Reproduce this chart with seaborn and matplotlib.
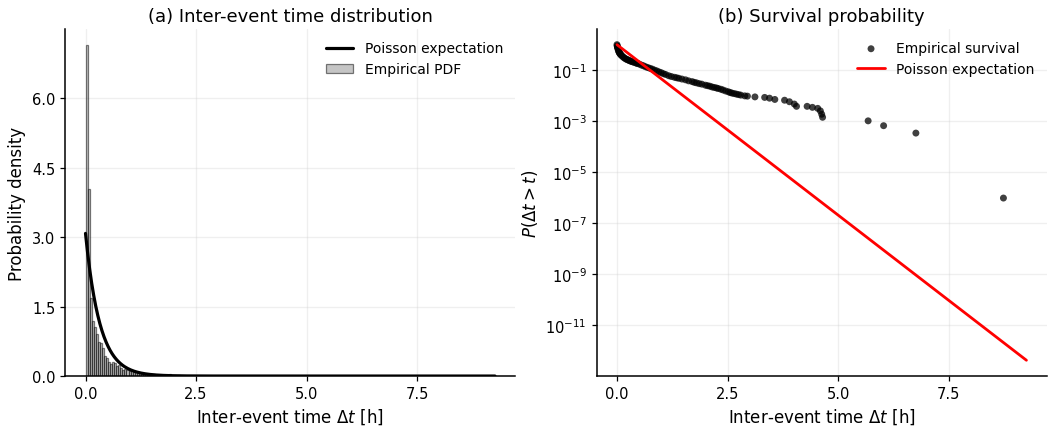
import numpy as np
import pandas as pd
import matplotlib
matplotlib.use("Agg")
import matplotlib.pyplot as plt
import seaborn as sns
from matplotlib.ticker import NullLocator

# ---- data ----
t_max = 9.26          # largest inter-event time [h]
poisson_rate = 3.08   # events per hour (Poisson expectation)
n_bins = 200

# empirical PDF heights of the first bins (rest ~0)
pdf_head = [7.14, 4.04, 1.68, 1.19, 1.06, 0.90, 0.73, 0.72, 0.60, 0.44,
            0.40, 0.30, 0.26, 0.31, 0.28, 0.22, 0.24, 0.18, 0.14, 0.16,
            0.12, 0.10, 0.12, 0.08, 0.09, 0.07, 0.06, 0.07, 0.05, 0.04,
            0.03, 0.03, 0.02, 0.05, 0.02, 0.02, 0.03, 0.02, 0.01, 0.02,
            0.01, 0.04, 0.01, 0.01, 0.01, 0.02, 0.01, 0.01, 0.01, 0.01,
            0.01, 0.01, 0.01, 0.005, 0.005]

# empirical survival points
surv_t = [0.00, 0.005, 0.01, 0.015, 0.02, 0.03, 0.04, 0.05, 0.06, 0.07,
          0.085, 0.10, 0.125, 0.15, 0.175, 0.20, 0.225, 0.25, 0.275, 0.30,
          0.33, 0.35, 0.39, 0.43, 0.46, 0.50, 0.55, 0.60, 0.65, 0.70,
          0.75, 0.80, 0.85, 0.90, 0.95, 1.00, 1.05, 1.10, 1.17, 1.23,
          1.30, 1.35, 1.40, 1.47, 1.55, 1.62, 1.70, 1.75, 1.80, 1.86,
          1.92, 2.00, 2.05, 2.10, 2.15, 2.20, 2.25, 2.29, 2.35, 2.40,
          2.46, 2.52, 2.56, 2.60, 2.65, 2.70, 2.75, 2.80, 2.89, 2.95,
          3.12, 3.34, 3.45, 3.57, 3.79, 3.90, 4.01, 4.06, 4.30, 4.42,
          4.54, 4.60, 4.63, 4.65, 5.68, 6.03, 6.76, 8.74]
surv_log10p = [0.00, -0.05, -0.08, -0.12, -0.15, -0.22, -0.26, -0.30, -0.33, -0.36,
               -0.39, -0.42, -0.46, -0.50, -0.53, -0.56, -0.58, -0.60, -0.62, -0.64,
               -0.66, -0.67, -0.70, -0.72, -0.74, -0.76, -0.80, -0.83, -0.87, -0.90,
               -0.93, -0.96, -1.00, -1.03, -1.07, -1.10, -1.14, -1.17, -1.22, -1.25,
               -1.28, -1.30, -1.32, -1.35, -1.38, -1.42, -1.45, -1.48, -1.50, -1.53,
               -1.55, -1.59, -1.61, -1.63, -1.66, -1.68, -1.70, -1.72, -1.75, -1.78,
               -1.82, -1.85, -1.88, -1.90, -1.92, -1.94, -1.96, -1.98, -2.01, -2.02,
               -2.05, -2.07, -2.10, -2.15, -2.18, -2.24, -2.33, -2.42, -2.42, -2.46,
               -2.50, -2.60, -2.73, -2.85, -2.99, -3.18, -3.47, -6.02]

x_ticks = [0.0, 2.5, 5.0, 7.5]
pdf_yticks = [0.0, 1.5, 3.0, 4.5, 6.0]
surv_yticks = [1e-1, 1e-3, 1e-5, 1e-7, 1e-9, 1e-11]

# ---- build tables ----
edges = np.linspace(0, t_max, n_bins + 1)
centers = 0.5 * (edges[:-1] + edges[1:])
heights = np.zeros(n_bins)
heights[:len(pdf_head)] = pdf_head
heights[-1] = 0.005
hist_df = pd.DataFrame({"t": centers, "density": heights})

t_line = np.linspace(0, t_max, 400)
pdf_line = poisson_rate * np.exp(-poisson_rate * t_line)
surv_line = np.exp(-poisson_rate * t_line)
surv_df = pd.DataFrame({"t": surv_t, "P": 10 ** np.array(surv_log10p)})

# ---- plot ----
sns.set_theme(style="ticks")
plt.rcParams["font.family"] = ["DejaVu Sans"]
plt.rcParams.update({
    "xtick.major.size": 3.5, "ytick.major.size": 3.5,
    "xtick.major.width": 0.9, "ytick.major.width": 0.9,
    "axes.linewidth": 1.1,
    "xtick.major.pad": 3.5, "ytick.major.pad": 3.5,
    "text.color": "black", "axes.labelcolor": "black",
    "xtick.color": "black", "ytick.color": "black", "axes.edgecolor": "black",
})

fig, (ax1, ax2) = plt.subplots(1, 2, figsize=(10.49, 4.27), dpi=100)
fig.subplots_adjust(left=0.062, right=0.998, bottom=0.117, top=0.93, wspace=0.18)

sns.histplot(data=hist_df, x="t", weights="density", bins=n_bins, binrange=(0, t_max),
             stat="count", facecolor=(0.5, 0.5, 0.5, 0.45),
             edgecolor=(0.0, 0.0, 0.0, 0.5), linewidth=0.9,
             label="Empirical PDF", ax=ax1)
sns.lineplot(x=t_line, y=pdf_line, color="black", linewidth=2.3,
             label="Poisson expectation", ax=ax1)
ax1.set_xticks(x_ticks)
ax1.set_yticks(pdf_yticks)
ax1.set_xlabel(r"Inter-event time $\Delta t$ [h]", fontsize=12)
ax1.set_ylabel("Probability density", fontsize=12)
ax1.set_title("(a) Inter-event time distribution", fontsize=13)
ax1.grid(True, alpha=0.3)
h, l = ax1.get_legend_handles_labels()
order = [l.index("Poisson expectation"), l.index("Empirical PDF")]
ax1.legend([h[i] for i in order], [l[i] for i in order], frameon=False, fontsize=10,
           loc="upper right")

sns.scatterplot(data=surv_df, x="t", y="P", color="black", alpha=0.75, s=25,
                edgecolor="none", label="Empirical survival", ax=ax2)
sns.lineplot(x=t_line, y=surv_line, color="red", linewidth=2,
             label="Poisson expectation", ax=ax2)
ax2.set_yscale("log")
ax2.set_xticks(x_ticks)
ax2.set_yticks(surv_yticks)
ax2.yaxis.set_minor_locator(NullLocator())
ax2.set_xlabel(r"Inter-event time $\Delta t$ [h]", fontsize=12)
ax2.set_ylabel(r"$P(\Delta t > t)$", fontsize=12)
ax2.set_title("(b) Survival probability", fontsize=13)
ax2.grid(True, alpha=0.3)
ax2.legend(frameon=False, fontsize=10, loc="upper right")

for ax in (ax1, ax2):
    ax.tick_params(labelsize=10.5)
    sns.despine(ax=ax)

fig.savefig("out.png", dpi=100)
